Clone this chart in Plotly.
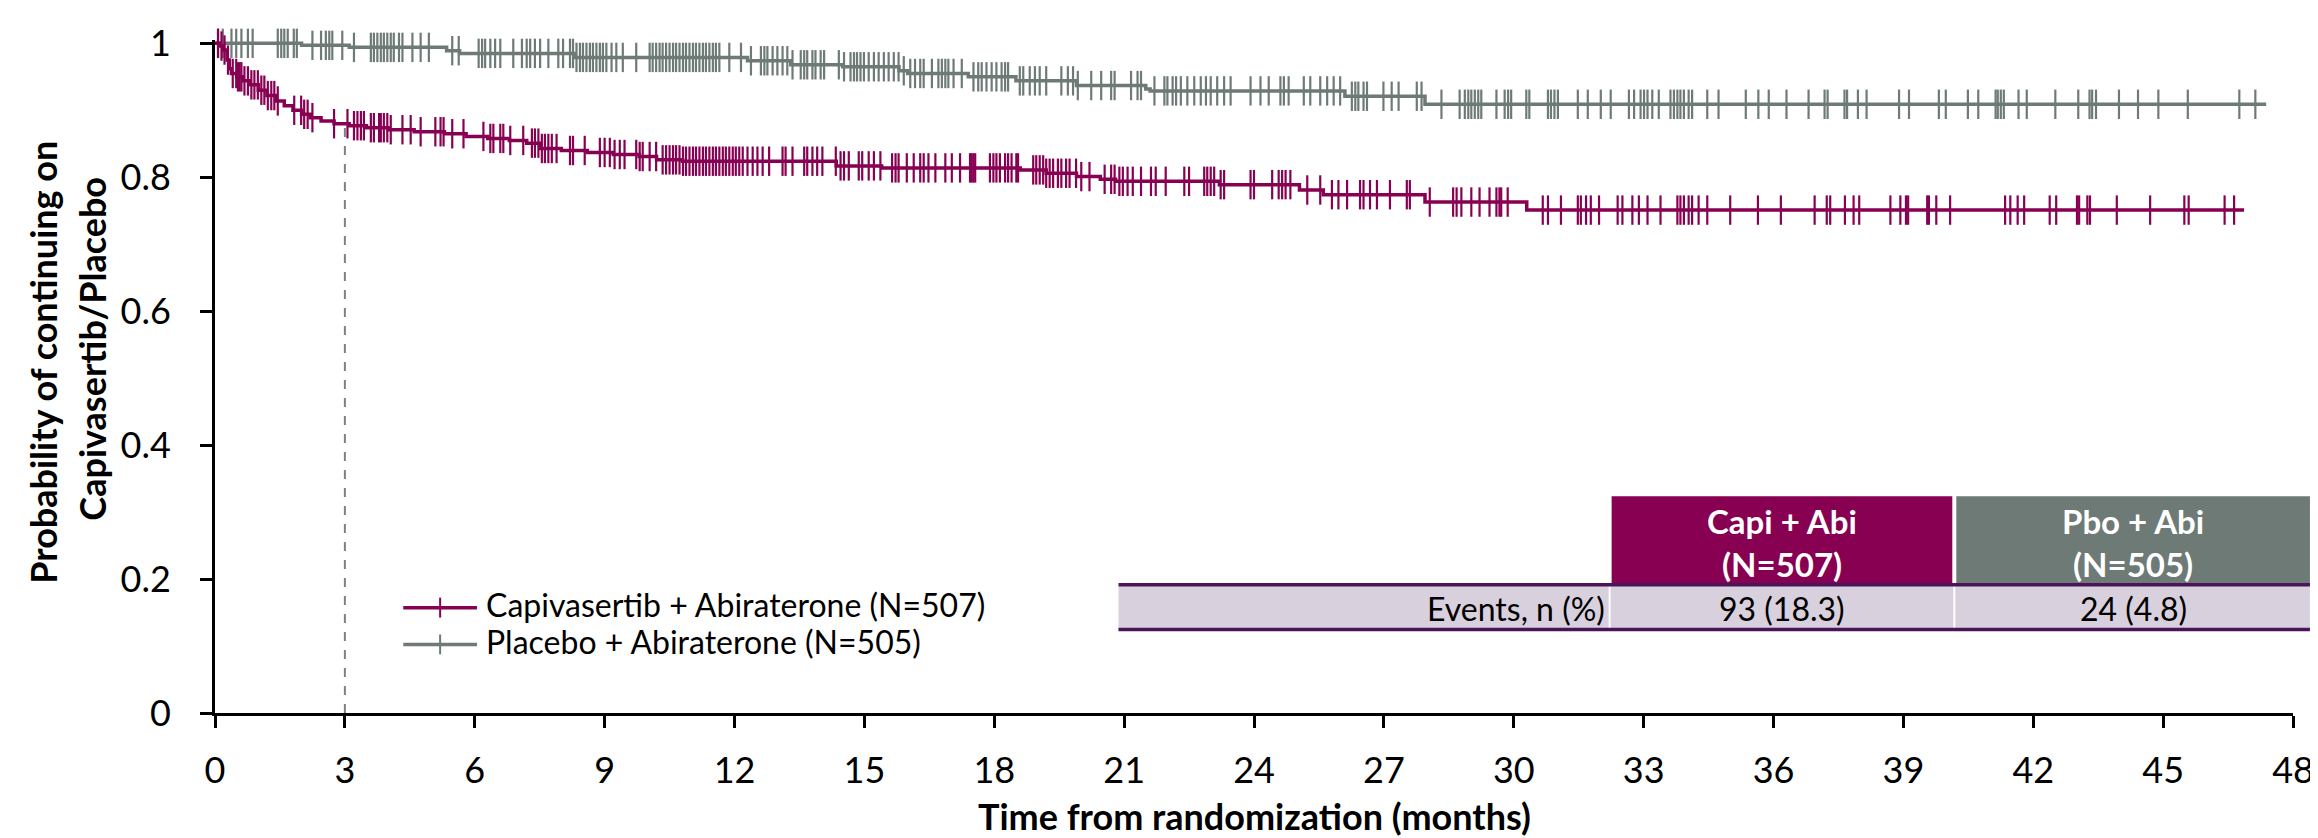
import numpy as np
import plotly.graph_objects as go

# ---------------- data ----------------
capi_event_t = [0.10, 0.20, 0.28, 0.33, 0.38, 0.50, 0.65, 0.80, 1.00, 1.20, 1.40, 1.60, 1.80, 2.00, 2.20,
                2.45, 2.75, 3.10, 3.50, 4.00, 4.60, 5.30, 5.80, 6.30, 6.80, 7.20, 7.50, 8.00, 8.60, 9.20,
                9.80, 10.20, 10.80, 14.35, 15.40, 18.60, 19.20, 19.90, 20.45, 20.80, 23.20, 25.05, 25.60,
                27.95, 30.30]
capi_event_s = [0.996, 0.990, 0.975, 0.962, 0.955, 0.950, 0.944, 0.938, 0.930, 0.922, 0.914, 0.907, 0.900,
                0.894, 0.889, 0.884, 0.880, 0.877, 0.874, 0.871, 0.868, 0.865, 0.861, 0.858, 0.855, 0.851,
                0.843, 0.840, 0.837, 0.834, 0.831, 0.826, 0.824, 0.817, 0.814, 0.811, 0.806, 0.801, 0.797,
                0.794, 0.789, 0.781, 0.774, 0.763, 0.751]
capi_end = 46.87

pbo_event_t = [2.0, 3.1, 5.35, 5.65, 8.3, 12.3, 13.3, 14.5, 15.8, 16.0, 17.4, 18.5, 19.9, 21.5, 21.6, 26.1, 27.95]
pbo_event_s = [0.997, 0.994, 0.989, 0.985, 0.979, 0.974, 0.968, 0.965, 0.959, 0.955, 0.950, 0.944, 0.937,
               0.932, 0.929, 0.921, 0.909]
pbo_end = 47.38

capi_censor = [0.07, 0.15, 0.22, 0.30, 0.41, 0.49, 0.53, 0.57, 0.61, 0.68, 0.76, 0.84, 0.91, 0.99, 1.07, 1.14,
               1.22, 1.30, 1.37, 1.45, 1.83, 1.99, 2.06, 2.14, 2.25, 2.75, 3.06, 3.21, 3.29, 3.37, 3.44, 3.60,
               3.67, 3.79, 3.83, 3.90, 3.98, 4.06, 4.33, 4.52, 4.75, 5.09, 5.21, 5.28, 5.48, 5.74, 6.20, 6.36,
               6.43, 6.59, 6.66, 6.82, 7.12, 7.32, 7.39, 7.47, 7.55, 7.62, 7.70, 7.78, 7.89, 8.20, 8.27, 8.54,
               8.89, 9.00, 9.12, 9.23, 9.35, 9.46, 9.73, 9.81, 9.88, 10.04, 10.19, 10.34, 10.42, 10.50, 10.58,
               10.65, 10.73, 10.81, 10.88, 10.96, 11.04, 11.11, 11.19, 11.27, 11.34, 11.42, 11.50, 11.57,
               11.65, 11.73, 11.80, 11.88, 11.96, 12.03, 12.11, 12.19, 12.30, 12.42, 12.53, 12.65, 12.80,
               13.11, 13.18, 13.34, 13.61, 13.68, 13.80, 13.91, 14.03, 14.34, 14.45, 14.53, 14.64, 14.87,
               14.95, 15.10, 15.22, 15.37, 15.64, 15.72, 15.79, 15.98, 16.14, 16.29, 16.37, 16.48, 16.64,
               16.87, 17.02, 17.21, 17.44, 17.48, 17.52, 17.56, 17.90, 17.98, 18.05, 18.13, 18.25, 18.32,
               18.40, 18.51, 18.55, 18.90, 18.97, 19.05, 19.13, 19.20, 19.28, 19.36, 19.47, 19.55, 19.66,
               19.74, 19.89, 20.01, 20.20, 20.55, 20.70, 20.78, 20.89, 20.97, 21.08, 21.20, 21.39, 21.62,
               21.73, 21.96, 22.39, 22.50, 22.85, 22.92, 23.00, 23.08, 23.23, 23.31, 23.92, 24.00, 24.42,
               24.57, 24.65, 24.73, 24.84, 25.23, 25.53, 25.80, 25.95, 26.15, 26.45, 26.53, 26.68, 26.84,
               27.14, 27.53, 27.60, 28.06, 28.60, 28.68, 28.79, 29.02, 29.21, 29.44, 29.60, 29.67, 29.71,
               29.86, 30.67, 30.79, 31.09, 31.48, 31.55, 31.67, 31.78, 31.97, 32.40, 32.51, 32.74, 32.89,
               33.09, 33.39, 33.78, 33.85, 33.93, 34.04, 34.12, 34.27, 34.47, 35.00, 35.64, 36.17, 36.95,
               37.23, 37.31, 37.65, 37.85, 37.98, 38.70, 38.93, 39.06, 39.11, 39.55, 39.59, 39.76, 40.08,
               41.35, 41.47, 41.64, 41.79, 42.38, 42.53, 43.01, 43.06, 43.25, 43.31, 43.93, 44.70, 45.49,
               45.59, 46.42, 46.64]
pbo_censor = [0.07, 0.18, 0.38, 0.49, 0.61, 0.76, 0.87, 1.45, 1.53, 1.60, 1.68, 1.82, 1.89, 2.25, 2.45, 2.56,
              2.64, 2.71, 2.94, 3.21, 3.60, 3.67, 3.75, 3.83, 3.90, 3.98, 4.06, 4.13, 4.25, 4.33, 4.56, 4.75,
              4.94, 5.48, 5.63, 6.09, 6.17, 6.24, 6.36, 6.47, 6.59, 6.89, 7.09, 7.20, 7.28, 7.39, 7.51, 7.70,
              7.93, 8.04, 8.20, 8.27, 8.35, 8.43, 8.50, 8.58, 8.66, 8.73, 8.81, 8.89, 8.96, 9.04, 9.16, 9.27,
              9.42, 9.73, 10.04, 10.11, 10.19, 10.27, 10.34, 10.42, 10.50, 10.58, 10.65, 10.73, 10.81, 10.88,
              10.96, 11.04, 11.11, 11.19, 11.27, 11.34, 11.42, 11.50, 11.57, 11.65, 11.88, 12.15, 12.38,
              12.61, 12.69, 12.76, 12.88, 12.99, 13.11, 13.22, 13.34, 13.53, 13.61, 13.68, 13.80, 13.87,
              13.99, 14.07, 14.41, 14.53, 14.68, 14.76, 14.83, 14.91, 14.99, 15.10, 15.22, 15.33, 15.45,
              15.56, 15.68, 15.79, 15.91, 16.06, 16.17, 16.29, 16.37, 16.56, 16.71, 16.79, 16.87, 16.94,
              17.06, 17.25, 17.52, 17.63, 17.71, 17.82, 17.94, 18.05, 18.17, 18.25, 18.32, 18.59, 18.67,
              18.82, 18.94, 19.05, 19.20, 19.55, 19.70, 19.82, 19.93, 20.24, 20.47, 20.70, 20.78, 21.16,
              21.31, 21.39, 21.70, 21.93, 22.00, 22.12, 22.20, 22.31, 22.46, 22.62, 22.77, 22.89, 23.00,
              23.15, 23.31, 23.46, 23.92, 24.15, 24.34, 24.61, 24.69, 24.80, 25.15, 25.30, 25.53, 25.69,
              25.84, 25.99, 26.26, 26.34, 26.41, 26.53, 26.61, 26.99, 27.18, 27.34, 27.76, 27.87, 28.33,
              28.75, 28.87, 28.95, 29.02, 29.10, 29.18, 29.25, 29.60, 29.79, 29.87, 29.94, 30.29, 30.36,
              30.79, 30.86, 30.94, 31.02, 31.48, 31.71, 32.01, 32.24, 32.66, 32.78, 32.93, 33.01, 33.09,
              33.20, 33.35, 33.62, 33.70, 33.78, 33.85, 33.93, 34.04, 34.12, 34.47, 34.73, 35.36, 35.65,
              35.89, 36.30, 36.81, 37.18, 37.25, 37.64, 37.70, 37.95, 38.15, 38.90, 39.13, 39.82, 39.98,
              40.49, 40.73, 41.13, 41.18, 41.25, 41.32, 41.66, 41.85, 42.51, 43.04, 43.30, 43.36, 43.45,
              43.98, 44.42, 44.89, 45.57, 46.76, 47.13]

series_names = ["Capivasertib + Abiraterone (N=507)", "Placebo + Abiraterone (N=505)"]
landmark_month = 3

x_ticks = list(range(0, 49, 3))
y_ticks = [0, 0.2, 0.4, 0.6, 0.8, 1]
y_ticktext = ["0", "0.2", "0.4", "0.6", "0.8", "1"]

y_title_lines = ["Probability of continuing on", "Capivasertib/Placebo"]
x_title = "Time from randomization (months)"

table_arm = ["Capi + Abi", "Pbo + Abi"]
table_n = ["(N=507)", "(N=505)"]
table_row_label = "Events, n (%)"
table_values = ["93 (18.3)", "24 (4.8)"]

# ---------------- style ----------------
CAPI = "#870052"
PBO = "#6d7a76"
FONT = "Lato"
W, H = 2318, 838
ML, MR, MT, MB = 207, 25, 28, 133
PH = H - MT - MB


def py(px):  # pixel row -> paper y
    return (H - MB - px) / PH


def px_(x):  # pixel column -> paper x
    return (x - ML) / (W - ML - MR)


def step_value(times, surv, t):
    idx = np.searchsorted(np.asarray(times), np.asarray(t), side="right")
    s = np.concatenate([[1.0], surv])
    return s[idx]


fig = go.Figure()
arms = [
    (capi_event_t, capi_event_s, capi_end, capi_censor, CAPI),
    (pbo_event_t, pbo_event_s, pbo_end, pbo_censor, PBO),
]
for ev_t, ev_s, end, cens, col in arms[::-1]:
    xs = [0] + list(ev_t) + [end]
    ys = [1.0] + list(ev_s) + [ev_s[-1]]
    fig.add_trace(go.Scatter(x=xs, y=ys, mode="lines", line=dict(color=col, width=3.5, shape="hv"),
                             showlegend=False, hoverinfo="skip"))
    fig.add_trace(go.Scatter(x=cens, y=step_value(ev_t, ev_s, cens), mode="markers",
                             marker=dict(symbol="line-ns", size=21, line=dict(color=col, width=2.2)),
                             showlegend=False, cliponaxis=False, hoverinfo="skip"))

# landmark dashed line at 3 months
fig.add_shape(type="line", xref="x", yref="y", x0=landmark_month, x1=landmark_month, y0=0,
              y1=float(step_value(capi_event_t, capi_event_s, [landmark_month])[0]) - 0.003,
              line=dict(color="#808080", width=2, dash="dash"), layer="below")

# legend (drawn manually to match the long line samples)
leg_rows = [599, 636]
for name, col, ry in zip(series_names, [CAPI, PBO], leg_rows):
    yy = py(ry)
    fig.add_shape(type="line", xref="paper", yref="paper", x0=px_(396), x1=px_(470), y0=yy, y1=yy,
                  line=dict(color=col, width=3.5))
    fig.add_shape(type="line", xref="paper", yref="paper", x0=px_(433), x1=px_(433), y0=py(ry - 10),
                  y1=py(ry + 10), line=dict(color=col, width=2))
    fig.add_annotation(xref="paper", yref="paper", x=px_(477), y=py(ry - 3), text=name, showarrow=False,
                       xanchor="left", yanchor="middle", font=dict(family=FONT, size=32, color="black"))

# events table
hdr_x = [(1609, 1951), (1955, 2310)]
for (x0, x1), col, arm, n, val in zip(hdr_x, [CAPI, PBO], table_arm, table_n, table_values):
    fig.add_shape(type="rect", xref="paper", yref="paper", x0=px_(x0), x1=px_(x1), y0=py(576), y1=py(487),
                  fillcolor=col, line=dict(width=0))
    cx = px_((x0 + x1) / 2)
    fig.add_annotation(xref="paper", yref="paper", x=cx, y=py(512), text=arm, showarrow=False,
                       xanchor="center", yanchor="middle",
                       font=dict(family=FONT, size=33, color="white", weight="bold"))
    fig.add_annotation(xref="paper", yref="paper", x=cx, y=py(555), text=n, showarrow=False,
                       xanchor="center", yanchor="middle",
                       font=dict(family=FONT, size=33, color="white", weight="bold"))
    fig.add_annotation(xref="paper", yref="paper", x=cx, y=py(600), text=val, showarrow=False,
                       xanchor="center", yanchor="middle", font=dict(family=FONT, size=32, color="black"))
fig.add_shape(type="rect", xref="paper", yref="paper", x0=px_(1114), x1=px_(2310), y0=py(622), y1=py(576),
              fillcolor="#d9d0de", line=dict(width=0), layer="below")
for xs_ in [1607, 1953]:
    fig.add_shape(type="line", xref="paper", yref="paper", x0=px_(xs_), x1=px_(xs_), y0=py(622), y1=py(576),
                  line=dict(color="white", width=2))
for yl in [576, 621]:
    fig.add_shape(type="line", xref="paper", yref="paper", x0=px_(1114), x1=px_(2310), y0=py(yl), y1=py(yl),
                  line=dict(color="#4a1458", width=3.5))
fig.add_annotation(xref="paper", yref="paper", x=px_(1604), y=py(600), text=table_row_label, showarrow=False,
                   xanchor="right", yanchor="middle", font=dict(family=FONT, size=32, color="black"))

# axis titles
for line_txt, cx, cy in zip(y_title_lines, [34, 84], [352, 338]):
    fig.add_annotation(xref="paper", yref="paper", x=px_(cx), y=py(cy), text=line_txt,
                       showarrow=False, textangle=-90, xanchor="center", yanchor="middle",
                       font=dict(family=FONT, size=36, color="black", weight="bold"))
fig.add_annotation(xref="paper", yref="paper", x=0.5, y=py(809), text=x_title,
                   showarrow=False, xanchor="center", yanchor="middle",
                   font=dict(family=FONT, size=36, color="black", weight="bold"))

axis_common = dict(showline=True, linecolor="black", linewidth=3, ticks="outside", ticklen=12, tickwidth=3,
                   tickcolor="black", showgrid=False, zeroline=False,
                   tickfont=dict(family=FONT, size=36, color="black"))
fig.update_xaxes(range=[0, 48], tickvals=x_ticks, ticktext=[str(v) for v in x_ticks], ticklabelstandoff=12,
                 **axis_common)
fig.update_yaxes(range=[0, 1.005], tickvals=y_ticks, ticktext=y_ticktext, ticklabelstandoff=22, **axis_common)

fig.update_layout(width=W, height=H, autosize=False, margin=dict(l=ML, r=MR, t=MT, b=MB),
                  plot_bgcolor="white", paper_bgcolor="white", font=dict(family=FONT), showlegend=False)

fig.write_html("out.html")
